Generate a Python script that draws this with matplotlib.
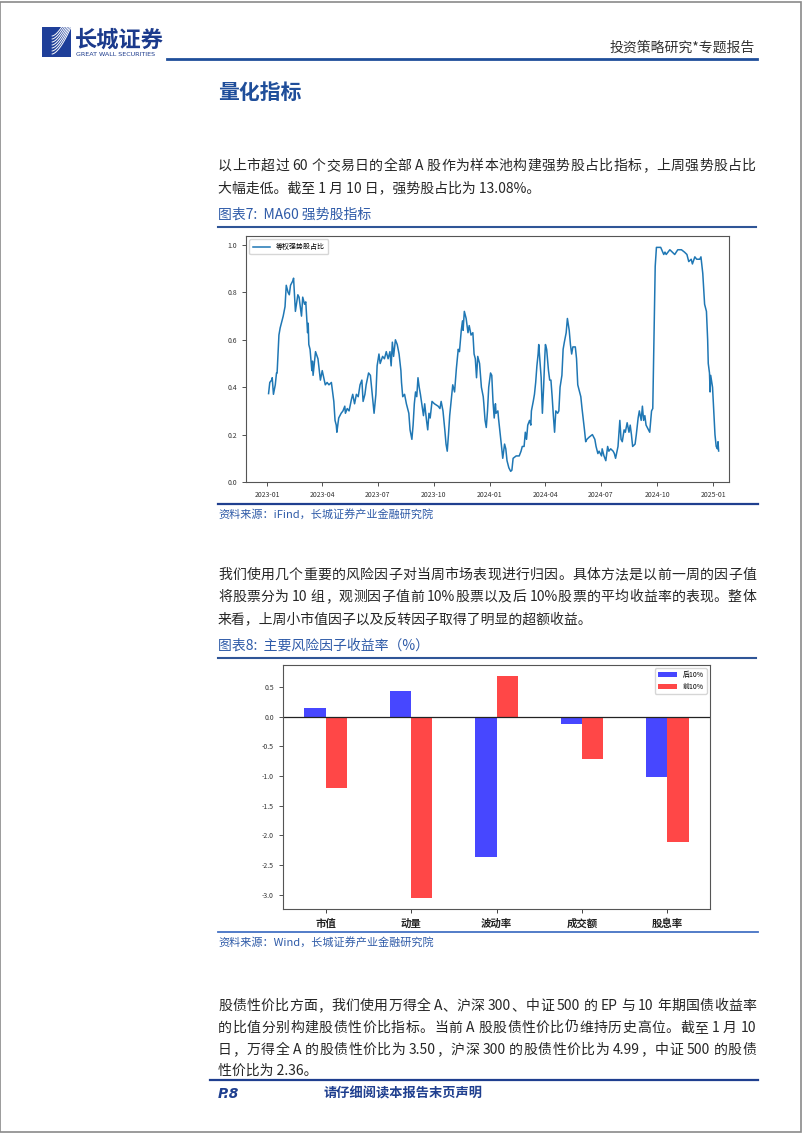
import re
import numpy as np
import pandas as pd
import matplotlib
matplotlib.use("Agg")
import matplotlib.pyplot as plt
import matplotlib.dates as mdates
from matplotlib.patches import Rectangle
from matplotlib.lines import Line2D

plt.rcParams['font.family'] = ['Noto Sans CJK SC', 'DejaVu Sans']
plt.rcParams['axes.unicode_minus'] = False

# ---- data ----
ma60_dates = [
    "2023-01-03", "2023-01-05", "2023-01-08", "2023-01-09", "2023-01-11", "2023-01-14", "2023-01-16",
    "2023-01-17", "2023-01-20", "2023-01-22", "2023-01-27", "2023-01-30", "2023-02-01", "2023-02-04",
    "2023-02-06", "2023-02-08", "2023-02-12", "2023-02-13", "2023-02-16", "2023-02-20", "2023-02-22",
    "2023-02-26", "2023-02-28", "2023-03-03", "2023-03-05", "2023-03-08", "2023-03-09", "2023-03-10",
    "2023-03-12", "2023-03-15", "2023-03-16", "2023-03-17", "2023-03-21", "2023-03-25", "2023-03-29",
    "2023-04-01", "2023-04-06", "2023-04-09", "2023-04-12", "2023-04-16", "2023-04-20", "2023-04-22",
    "2023-04-24", "2023-04-25", "2023-04-28", "2023-05-02", "2023-05-05", "2023-05-08", "2023-05-09",
    "2023-05-12", "2023-05-15", "2023-05-19", "2023-05-21", "2023-05-24", "2023-05-27", "2023-05-30",
    "2023-06-02", "2023-06-05", "2023-06-07", "2023-06-10", "2023-06-12", "2023-06-16", "2023-06-19",
    "2023-06-22", "2023-06-23", "2023-06-25", "2023-06-28", "2023-06-30", "2023-07-03", "2023-07-05",
    "2023-07-09", "2023-07-12", "2023-07-15", "2023-07-18", "2023-07-21", "2023-07-23", "2023-07-25",
    "2023-07-27", "2023-07-30", "2023-08-02", "2023-08-05", "2023-08-08", "2023-08-09", "2023-08-11",
    "2023-08-14", "2023-08-17", "2023-08-21", "2023-08-23", "2023-08-26", "2023-08-28", "2023-08-30",
    "2023-09-01", "2023-09-03", "2023-09-05", "2023-09-07", "2023-09-09", "2023-09-14", "2023-09-16",
    "2023-09-19", "2023-09-21", "2023-09-23", "2023-09-25", "2023-09-28", "2023-10-02", "2023-10-08",
    "2023-10-11", "2023-10-13", "2023-10-16", "2023-10-19", "2023-10-21", "2023-10-23", "2023-10-25",
    "2023-10-27", "2023-10-30", "2023-11-01", "2023-11-04", "2023-11-07", "2023-11-10", "2023-11-12",
    "2023-11-15", "2023-11-17", "2023-11-18", "2023-11-20", "2023-11-23", "2023-11-26", "2023-11-28",
    "2023-12-01", "2023-12-04", "2023-12-06", "2023-12-08", "2023-12-10", "2023-12-12", "2023-12-15",
    "2023-12-18", "2023-12-21", "2023-12-22", "2023-12-24", "2023-12-26", "2023-12-28", "2023-12-30",
    "2024-01-02", "2024-01-04", "2024-01-06", "2024-01-08", "2024-01-10", "2024-01-11", "2024-01-14",
    "2024-01-15", "2024-01-18", "2024-01-20", "2024-01-22", "2024-01-25", "2024-01-27", "2024-01-29",
    "2024-02-01", "2024-02-04", "2024-02-06", "2024-02-08", "2024-02-13", "2024-02-18", "2024-02-21",
    "2024-02-23", "2024-02-26", "2024-02-28", "2024-03-01", "2024-03-03", "2024-03-06", "2024-03-08",
    "2024-03-09", "2024-03-12", "2024-03-14", "2024-03-16", "2024-03-18", "2024-03-20", "2024-03-21",
    "2024-03-24", "2024-03-25", "2024-03-27", "2024-03-29", "2024-03-31", "2024-04-01", "2024-04-03",
    "2024-04-06", "2024-04-08", "2024-04-10", "2024-04-12", "2024-04-14", "2024-04-16", "2024-04-18",
    "2024-04-21", "2024-04-23", "2024-04-25", "2024-04-28", "2024-04-30", "2024-05-02", "2024-05-05",
    "2024-05-07", "2024-05-10", "2024-05-12", "2024-05-14", "2024-05-16", "2024-05-20", "2024-05-22",
    "2024-05-24", "2024-05-27", "2024-05-29", "2024-05-31", "2024-06-04", "2024-06-06", "2024-06-08",
    "2024-06-12", "2024-06-17", "2024-06-21", "2024-06-23", "2024-06-26", "2024-06-28", "2024-07-02",
    "2024-07-03", "2024-07-06", "2024-07-09", "2024-07-12", "2024-07-14", "2024-07-17", "2024-07-21",
    "2024-07-23", "2024-07-25", "2024-07-29", "2024-08-01", "2024-08-03", "2024-08-05", "2024-08-08",
    "2024-08-10", "2024-08-13", "2024-08-16", "2024-08-18", "2024-08-20", "2024-08-22", "2024-08-26",
    "2024-08-28", "2024-08-31", "2024-09-02", "2024-09-05", "2024-09-07", "2024-09-09", "2024-09-11",
    "2024-09-13", "2024-09-17", "2024-09-19", "2024-09-22", "2024-09-24", "2024-09-26", "2024-09-28",
    "2024-09-30", "2024-10-07", "2024-10-12", "2024-10-14", "2024-10-16", "2024-10-22", "2024-10-26",
    "2024-10-30", "2024-11-04", "2024-11-10", "2024-11-15", "2024-11-19", "2024-11-22", "2024-11-26",
    "2024-11-28", "2024-12-02", "2024-12-05", "2024-12-10", "2024-12-12", "2024-12-15", "2024-12-18",
    "2024-12-21", "2024-12-23", "2024-12-24", "2024-12-26", "2024-12-27", "2024-12-28", "2024-12-31",
    "2025-01-02", "2025-01-04", "2025-01-06", "2025-01-08", "2025-01-09", "2025-01-10",
]
ma60_values = [
    0.373, 0.42, 0.43, 0.44, 0.37, 0.41, 0.46,
    0.46, 0.62, 0.65, 0.70, 0.74, 0.83, 0.80,
    0.79, 0.83, 0.85, 0.86, 0.72, 0.79, 0.78,
    0.70, 0.78, 0.75, 0.76, 0.63, 0.67, 0.58,
    0.56, 0.47, 0.51, 0.45, 0.55, 0.52, 0.43,
    0.47, 0.41, 0.42, 0.41, 0.42, 0.34, 0.26,
    0.24, 0.21, 0.27, 0.29, 0.30, 0.32, 0.29,
    0.31, 0.30, 0.35, 0.37, 0.33, 0.37, 0.36,
    0.41, 0.43, 0.34, 0.37, 0.41, 0.46, 0.45,
    0.37, 0.34, 0.29, 0.37, 0.49, 0.54, 0.50,
    0.53, 0.52, 0.55, 0.52, 0.55, 0.49, 0.59,
    0.53, 0.60, 0.58, 0.54, 0.47, 0.42, 0.36,
    0.37, 0.33, 0.29, 0.22, 0.18, 0.24, 0.33,
    0.38, 0.36, 0.44, 0.40, 0.37, 0.28, 0.33,
    0.26, 0.22, 0.29, 0.27, 0.34, 0.33, 0.32,
    0.31, 0.34, 0.30, 0.22, 0.16, 0.13, 0.20,
    0.28, 0.36, 0.41, 0.38, 0.48, 0.56, 0.55,
    0.64, 0.68, 0.64, 0.72, 0.69, 0.63, 0.66,
    0.62, 0.63, 0.54, 0.52, 0.44, 0.53, 0.50,
    0.40, 0.36, 0.33, 0.26, 0.23, 0.30, 0.40,
    0.46, 0.45, 0.34, 0.27, 0.33, 0.29, 0.30,
    0.27, 0.20, 0.15, 0.10, 0.16, 0.14, 0.09,
    0.06, 0.045, 0.05, 0.10, 0.11, 0.11, 0.13,
    0.15, 0.15, 0.21, 0.18, 0.24, 0.26, 0.24,
    0.30, 0.34, 0.37, 0.42, 0.49, 0.54, 0.58,
    0.47, 0.44, 0.29, 0.40, 0.53, 0.58, 0.56,
    0.47, 0.43, 0.43, 0.36, 0.28, 0.21, 0.30,
    0.29, 0.30, 0.40, 0.45, 0.56, 0.59, 0.63,
    0.69, 0.64, 0.58, 0.54, 0.57, 0.57, 0.52,
    0.41, 0.38, 0.36, 0.31, 0.22, 0.17, 0.18,
    0.19, 0.20, 0.18, 0.15, 0.12, 0.13, 0.11,
    0.14, 0.11, 0.09, 0.15, 0.13, 0.14, 0.13,
    0.12, 0.10, 0.15, 0.26, 0.18, 0.17, 0.22,
    0.21, 0.25, 0.21, 0.24, 0.20, 0.15, 0.16,
    0.20, 0.27, 0.30, 0.26, 0.32, 0.26, 0.28,
    0.24, 0.22, 0.21, 0.30, 0.31, 0.60, 0.91,
    0.99, 0.99, 0.96, 0.97, 0.96, 0.98, 0.97,
    0.96, 0.98, 0.98, 0.97, 0.96, 0.93, 0.94,
    0.92, 0.95, 0.94, 0.94, 0.95, 0.88, 0.75,
    0.72, 0.60, 0.50, 0.46, 0.38, 0.45, 0.40,
    0.30, 0.20, 0.15, 0.14, 0.17, 0.1308,
]
ma60_label = "等权强势股占比"

factors = ["市值", "动量", "波动率", "成交额", "股息率"]
bottom10 = [0.15, 0.43, -2.36, -0.13, -1.02]
top10 = [-1.21, -3.05, 0.68, -0.71, -2.11]
series_labels = ["后10%", "前10%"]

# ---- page text ----
header_right = "投资策略研究*专题报告"
section_title = "量化指标"
para1 = ["以上市超过 60 个交易日的全部 A 股作为样本池构建强势股占比指标，上周强势股占比",
         "大幅走低。截至 1 月 10 日，强势股占比为 13.08%。"]
caption7 = "图表7:  MA60 强势股指标"
source7 = "资料来源：iFind，长城证券产业金融研究院"
para2 = ["我们使用几个重要的风险因子对当周市场表现进行归因。具体方法是以前一周的因子值",
         "将股票分为 10 组，观测因子值前 10%股票以及后 10%股票的平均收益率的表现。整体",
         "来看，上周小市值因子以及反转因子取得了明显的超额收益。"]
caption8 = "图表8:  主要风险因子收益率（%）"
source8 = "资料来源：Wind，长城证券产业金融研究院"
para3 = ["股债性价比方面，我们使用万得全 A、沪深 300、中证 500 的 EP 与 10 年期国债收益率",
         "的比值分别构建股债性价比指标。当前 A 股股债性价比仍维持历史高位。截至 1 月 10",
         "日，万得全 A 的股债性价比为 3.50，沪深 300 的股债性价比为 4.99，中证 500 的股债",
         "性价比为 2.36。"]

W, H = 802, 1133
NAVY = "#1F3F8F"
BLUE = "#2F5BA8"
BODY = "#262626"

fig = plt.figure(figsize=(W / 100, H / 100), dpi=100)
renderer = fig.canvas.get_renderer()


def fx(x):
    return x / W


def fy(y):
    return 1 - y / H


def hline(y, x0, x1, color=NAVY, lw=1.5):
    fig.add_artist(Line2D([fx(x0), fx(x1)], [fy(y), fy(y)], color=color, lw=lw))


def text_line(s, y, x0=218, x1=756, justify=True, size=10, color=BODY):
    if not justify:
        fig.text(fx(x0), fy(y), s, fontsize=size, color=color, va="center", ha="left")
        return
    tokens = re.findall(r"[A-Za-z0-9.%]+|\s+|.", s)
    items = []
    for tok in tokens:
        if tok.isspace():
            items.append((None, 3.0))
            continue
        t = fig.text(0, 0, tok, fontsize=size, color=color, va="center", ha="left")
        w = t.get_window_extent(renderer).width
        items.append((t, w))
    glyphs = [it for it in items if it[0] is not None]
    total = sum(w for _, w in items)
    gap = (x1 - x0 - total) / max(len(glyphs) - 1, 1)
    x = x0
    for t, w in items:
        if t is None:
            x += w
            continue
        t.set_position((fx(x), fy(y)))
        x += w + gap


# page border
fig.add_artist(Rectangle((0.0005, 0.0005), 0.998, 0.998, transform=fig.transFigure,
                         fill=False, ec="#8a8a8a", lw=1.2))

# ---- header / logo ----
logo = fig.add_axes([fx(42), fy(57), fx(71) - fx(42), fy(27) - fy(57)])
logo.add_patch(Rectangle((0, 0), 1, 1, color="#1F3F99"))
tt = np.linspace(0, 1, 40)
for k in range(7):
    off = 0.1 * k
    logo.plot(0.35 + 0.65 * tt, off + 0.1 + 0.9 * tt ** 1.6, color="white", lw=0.7)
logo.set_xlim(0, 1)
logo.set_ylim(0, 1)
logo.axis("off")

fig.text(fx(75), fy(40), "长城证券", fontsize=16, fontweight="bold", color="#1B3A8C",
         va="center", ha="left")
fig.text(fx(76), fy(54), "GREAT WALL SECURITIES", fontsize=4.6, color="#1B3A8C",
         va="center", ha="left", family="DejaVu Sans")
fig.text(fx(755), fy(48), header_right, fontsize=10, color="#333333", va="center", ha="right")
hline(59, 167, 757, color="#1F4E9A", lw=2)

fig.text(fx(218), fy(92), section_title, fontsize=15, fontweight="bold", color="#1F4E9A",
         va="center", ha="left")

# ---- paragraph 1 + figure 7 ----
text_line(para1[0], 166)
text_line(para1[1], 188, justify=False)
fig.text(fx(218), fy(215), caption7, fontsize=10, color=BLUE, va="center", ha="left",
         style="italic")
hline(227, 218, 756, color="#2F5597", lw=1.5)

ax1 = fig.add_axes([fx(246), fy(482), fx(729) - fx(246), fy(236) - fy(482)])
dates = pd.to_datetime(ma60_dates)
ax1.plot(dates, ma60_values, color="#1f77b4", lw=1.1, label=ma60_label)
ax1.set_ylim(0, 1.038)
ax1.set_xlim(pd.Timestamp("2022-11-27"), pd.Timestamp("2025-01-27"))
ax1.xaxis.set_major_locator(mdates.MonthLocator(bymonth=[1, 4, 7, 10]))
ax1.xaxis.set_major_formatter(mdates.DateFormatter("%Y-%m"))
ax1.set_yticks([0.0, 0.2, 0.4, 0.6, 0.8, 1.0])
ax1.tick_params(labelsize=5, length=3, width=0.6, colors="#333333")
for sp in ax1.spines.values():
    sp.set_color("#555555")
    sp.set_linewidth(0.8)
ax1.legend(loc="upper left", fontsize=5, frameon=True, handlelength=2.5,
           borderpad=0.5, edgecolor="#cccccc")

hline(504, 218, 758, color=NAVY, lw=1.6)
fig.text(fx(218), fy(514), source7, fontsize=8, color=BLUE, va="center", ha="left",
         style="italic")

# ---- paragraph 2 + figure 8 ----
text_line(para2[0], 575)
text_line(para2[1], 597)
text_line(para2[2], 619, justify=False)
fig.text(fx(218), fy(646), caption8, fontsize=10, color=BLUE, va="center", ha="left",
         style="italic")
hline(658, 218, 756, color="#2F5597", lw=1.5)

ax2 = fig.add_axes([fx(283), fy(909), fx(710) - fx(283), fy(665) - fy(909)])
xpos = np.arange(len(factors))
bw = 0.25
ax2.bar(xpos - bw / 2, bottom10, bw, color="blue", alpha=0.72, label=series_labels[0])
ax2.bar(xpos + bw / 2, top10, bw, color="red", alpha=0.72, label=series_labels[1])
ax2.axhline(0, color="#222222", lw=0.9)
ax2.set_xlim(-0.5, len(factors) - 0.5)
ax2.set_xticks(xpos)
ax2.set_xticklabels(factors, fontsize=7.5, fontweight="bold")
ax2.set_yticks([0.5, 0.0, -0.5, -1.0, -1.5, -2.0, -2.5, -3.0])
ax2.yaxis.set_major_formatter(matplotlib.ticker.FormatStrFormatter("%.1f"))
ax2.tick_params(axis="y", labelsize=5, length=3, width=0.6, colors="#333333")
ax2.tick_params(axis="x", length=3, width=0.6, colors="#222222", pad=4)
for sp in ax2.spines.values():
    sp.set_color("#555555")
    sp.set_linewidth(0.8)
ax2.legend(loc="upper right", fontsize=5, frameon=True, handlelength=2.8,
           edgecolor="#cccccc")

hline(932, 218, 758, color="#4472C4", lw=1.3)
fig.text(fx(218), fy(942), source8, fontsize=8, color=BLUE, va="center", ha="left",
         style="italic")

# ---- paragraph 3 ----
text_line(para3[0], 1006)
text_line(para3[1], 1028)
text_line(para3[2], 1050)
text_line(para3[3], 1071, justify=False)

# ---- footer ----
hline(1080, 210, 758, color=NAVY, lw=1.6)
fig.text(fx(218), fy(1094), "P.8", fontsize=10, fontweight="bold", style="italic",
         color=NAVY, va="center", ha="left", family="DejaVu Sans")
fig.text(fx(403), fy(1094), "请仔细阅读本报告末页声明", fontsize=9.5, fontweight="bold",
         color=NAVY, va="center", ha="center")

fig.savefig("out.png", dpi=100)
